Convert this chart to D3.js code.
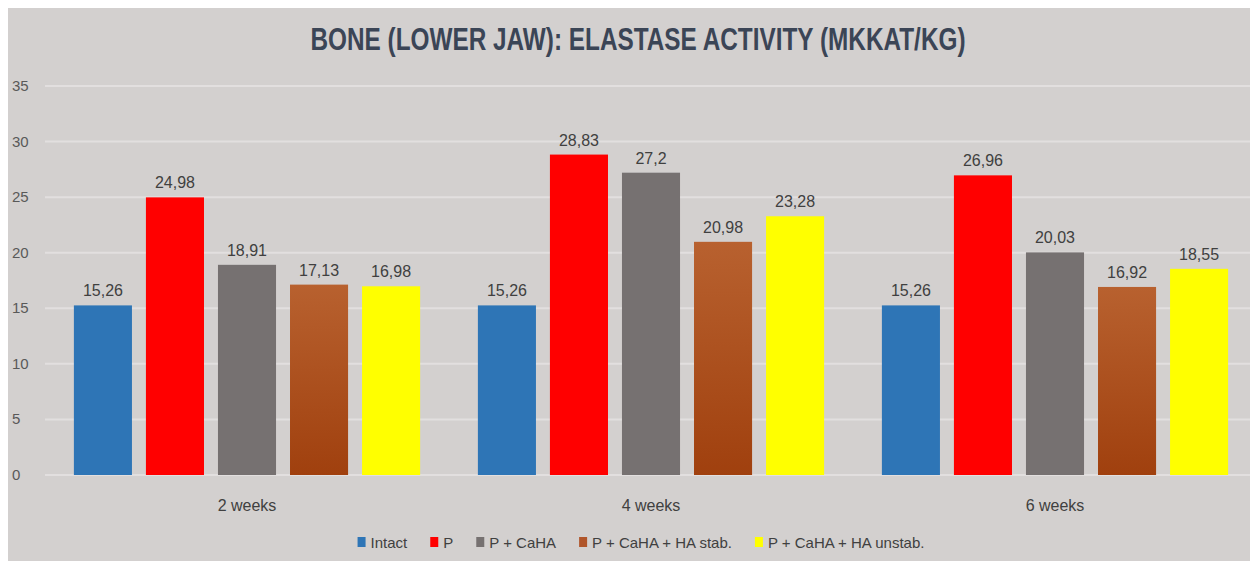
<!DOCTYPE html>
<html>
<head>
<meta charset="utf-8">
<script src="https://d3js.org/d3.v7.min.js"></script>
<style>
  body { margin: 0; background: #fff; }
  text { font-family: "Liberation Sans Narrow", "Liberation Sans", sans-serif; }
</style>
</head>
<body>
<svg id="chart" width="1250" height="561"></svg>
<script>
const groups = ["2 weeks", "4 weeks", "6 weeks"];
const series = ["Intact", "P", "P + CaHA", "P + CaHA + HA stab.", "P + CaHA + HA unstab."];
const colors = ["#2e75b6", "#ff0000", "#767171", "url(#brownGrad)", "#ffff00"];
const legendColors = ["#2e75b6", "#ff0000", "#767171", "#b0552a", "#ffff00"];
const intact = [15.26, 15.26, 15.26];
const pOnly = [24.98, 28.83, 26.96];
const pCaha = [18.91, 27.2, 20.03];
const pCahaStab = [17.13, 20.98, 16.92];
const pCahaUnstab = [16.98, 23.28, 18.55];
const yTicks = [0, 5, 10, 15, 20, 25, 30, 35];

const values = [intact, pOnly, pCaha, pCahaStab, pCahaUnstab];

const svg = d3.select("#chart");

const defs = svg.append("defs");
const grad = defs.append("linearGradient").attr("id", "brownGrad")
    .attr("x1", 0).attr("y1", 0).attr("x2", 0).attr("y2", 1);
grad.append("stop").attr("offset", "0%").attr("stop-color", "#b8612f");
grad.append("stop").attr("offset", "100%").attr("stop-color", "#a0400e");

// panel background
svg.append("rect")
    .attr("x", 8).attr("y", 8)
    .attr("width", 1242).attr("height", 553)
    .attr("fill", "#d3d0cf");

const y = d3.scaleLinear().domain([0, 35]).range([475, 86]);
const x0 = d3.scaleBand().domain(groups).range([45, 1257])
    .paddingInner(0.143).paddingOuter(0.0715);
const x1 = d3.scaleBand().domain(series).range([0, x0.bandwidth()])
    .paddingInner(0.194).paddingOuter(0);

// title
svg.append("text")
    .attr("x", 638).attr("y", 50)
    .attr("text-anchor", "middle")
    .attr("font-size", 31)
    .attr("font-weight", "bold")
    .attr("fill", "#3b4556")
    .attr("textLength", 655)
    .attr("lengthAdjust", "spacingAndGlyphs")
    .text("BONE (LOWER JAW): ELASTASE ACTIVITY (MKKAT/KG)");

// gridlines
svg.append("g").selectAll("line").data(yTicks).join("line")
    .attr("x1", 45).attr("x2", 1250)
    .attr("y1", d => y(d)).attr("y2", d => y(d))
    .attr("stroke", "#e2dfdf").attr("stroke-width", 2);

// y tick labels
svg.append("g").selectAll("text").data(yTicks).join("text")
    .attr("x", 12).attr("y", d => y(d) + 5)
    .attr("font-size", 15)
    .attr("fill", "#595959")
    .text(d => d);

// bars
const gGroups = svg.append("g").selectAll("g").data(groups).join("g")
    .attr("transform", d => `translate(${x0(d)},0)`);

gGroups.selectAll("rect")
    .data((g, gi) => series.map((s, si) => ({ s, si, v: values[si][gi] })))
    .join("rect")
    .attr("x", d => x1(d.s))
    .attr("width", x1.bandwidth())
    .attr("y", d => y(d.v))
    .attr("height", d => y(0) - y(d.v))
    .attr("fill", d => colors[d.si]);

gGroups.selectAll("text.val")
    .data((g, gi) => series.map((s, si) => ({ s, si, v: values[si][gi] })))
    .join("text")
    .attr("class", "val")
    .attr("x", d => x1(d.s) + x1.bandwidth() / 2)
    .attr("y", d => y(d.v) - 9)
    .attr("text-anchor", "middle")
    .attr("font-size", 16)
    .attr("fill", "#404040")
    .text(d => String(d.v).replace(".", ","));

// category labels
svg.append("g").selectAll("text").data(groups).join("text")
    .attr("x", d => x0(d) + x0.bandwidth() / 2)
    .attr("y", 511)
    .attr("text-anchor", "middle")
    .attr("font-size", 16)
    .attr("fill", "#404040")
    .text(d => d);

// legend - laid out from measured text widths, centred
const leg = svg.append("g").attr("transform", "translate(0,548)");
const items = leg.selectAll("g").data(series).join("g");
items.append("rect")
    .attr("x", 0).attr("y", -11)
    .attr("width", 8).attr("height", 10)
    .attr("fill", (d, i) => legendColors[i]);
items.append("text")
    .attr("x", 13).attr("y", 0)
    .attr("font-size", 15)
    .attr("fill", "#404040")
    .text(d => d);

let cursor = 0;
const offsets = [];
items.each(function () {
    offsets.push(cursor);
    const w = d3.select(this).select("text").node().getComputedTextLength();
    cursor += 13 + w + 23;
});
const total = cursor - 23;
const startX = 641 - total / 2;
items.attr("transform", (d, i) => `translate(${startX + offsets[i]},0)`);
</script>
</body>
</html>
